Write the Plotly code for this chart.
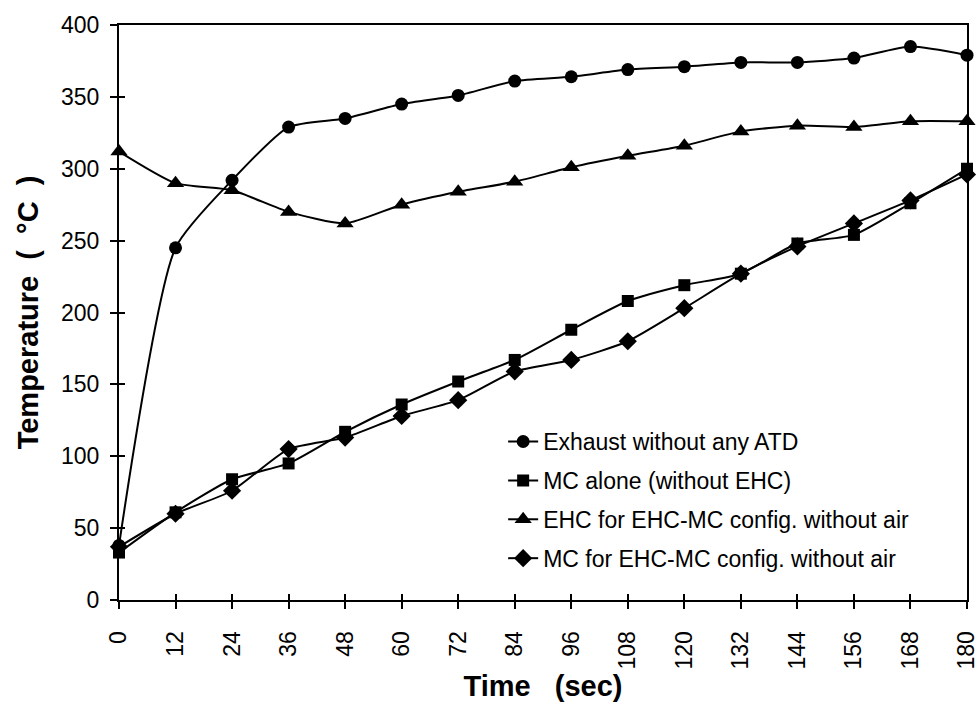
import plotly.graph_objects as go

time_s = [0, 12, 24, 36, 48, 60, 72, 84, 96, 108, 120, 132, 144, 156, 168, 180]
exhaust = [38, 245, 292, 329, 335, 345, 351, 361, 364, 369, 371, 374, 374, 377, 385, 379]
mc_alone = [33, 61, 84, 95, 117, 136, 152, 167, 188, 208, 219, 227, 248, 254, 276, 300]
ehc_cfg = [312, 290, 285, 270, 262, 275, 284, 291, 301, 309, 316, 326, 330, 329, 333, 333]
mc_cfg = [37, 60, 76, 105, 113, 128, 139, 159, 167, 180, 203, 227, 246, 262, 278, 296]
y_ticks = [0, 50, 100, 150, 200, 250, 300, 350, 400]

names = ["Exhaust without any ATD", "MC alone (without EHC)",
         "EHC for EHC-MC config. without air", "MC for EHC-MC config. without air"]
series = [exhaust, mc_alone, ehc_cfg, mc_cfg]
symbols = ["circle", "square", "triangle-up", "diamond"]
sizes = [13, 12, 15, 14]

fig = go.Figure()
for i, (nm, ys, sym, sz) in enumerate(zip(names, series, symbols, sizes)):
    fig.add_trace(go.Scatter(
        x=time_s, y=ys, name=nm, mode="lines+markers",
        line=dict(color="black", width=2, shape="spline", smoothing=0.6),
        marker=dict(symbol=sym, size=sz, color="black"),
        legendgroup=f"g{i}",
        cliponaxis=False,
    ))

# helper trace to host inside ticks (crossing tick marks)
fig.add_trace(go.Scatter(x=[None], y=[None], xaxis="x2", yaxis="y2",
                         showlegend=False, hoverinfo="skip"))

NB = "\u00a0"
font_family = "Liberation Sans, Arial, sans-serif"
fig.update_layout(
    width=978, height=704,
    margin=dict(l=119, r=11, t=25, b=104),
    paper_bgcolor="white", plot_bgcolor="white",
    font=dict(family=font_family, size=23, color="black"),
    showlegend=True,
    legend=dict(x=0.453, y=0.313, xanchor="left", yanchor="top",
                traceorder="grouped", tracegroupgap=6,
                bgcolor="rgba(0,0,0,0)", font=dict(size=23, family=font_family)),
    xaxis=dict(range=[0, 180], tickmode="array", tickvals=time_s,
               ticktext=[str(t) for t in time_s], tickangle=-90,
               ticks="outside", ticklen=7, tickwidth=2, tickcolor="black",
               showline=True, linecolor="black", linewidth=2, mirror=True,
               showgrid=False, zeroline=False, automargin=False,
               ticklabelstandoff=13, ticklabeloverflow="allow",
               title=dict(text=f"<b>Time{NB}{NB}{NB}(sec)</b>", font=dict(size=29), standoff=6),
               tickfont=dict(size=23)),
    yaxis=dict(range=[0, 400], tickmode="array", tickvals=y_ticks,
               ticks="outside", ticklen=7, tickwidth=2, tickcolor="black",
               showline=True, linecolor="black", linewidth=2, mirror=True,
               showgrid=False, zeroline=False, automargin=False,
               ticklabelstandoff=6, ticklabeloverflow="allow",
               title=dict(text=f"<b>Temperature{NB}{NB}({NB}{NB}°C{NB}{NB})</b>",
                          font=dict(size=29), standoff=14),
               tickfont=dict(size=23)),
    xaxis2=dict(range=[0, 180], overlaying="x", anchor="y", side="bottom",
                tickmode="array", tickvals=time_s, showticklabels=False,
                ticks="inside", ticklen=6, tickwidth=2, tickcolor="black",
                showline=False, showgrid=False, zeroline=False),
    yaxis2=dict(range=[0, 400], overlaying="y", anchor="x", side="left",
                tickmode="array", tickvals=y_ticks, showticklabels=False,
                ticks="inside", ticklen=6, tickwidth=2, tickcolor="black",
                showline=False, showgrid=False, zeroline=False),
)

fig.write_html("out.html", config={"displayModeBar": False},
               post_script="document.body.style.margin='0px';")
